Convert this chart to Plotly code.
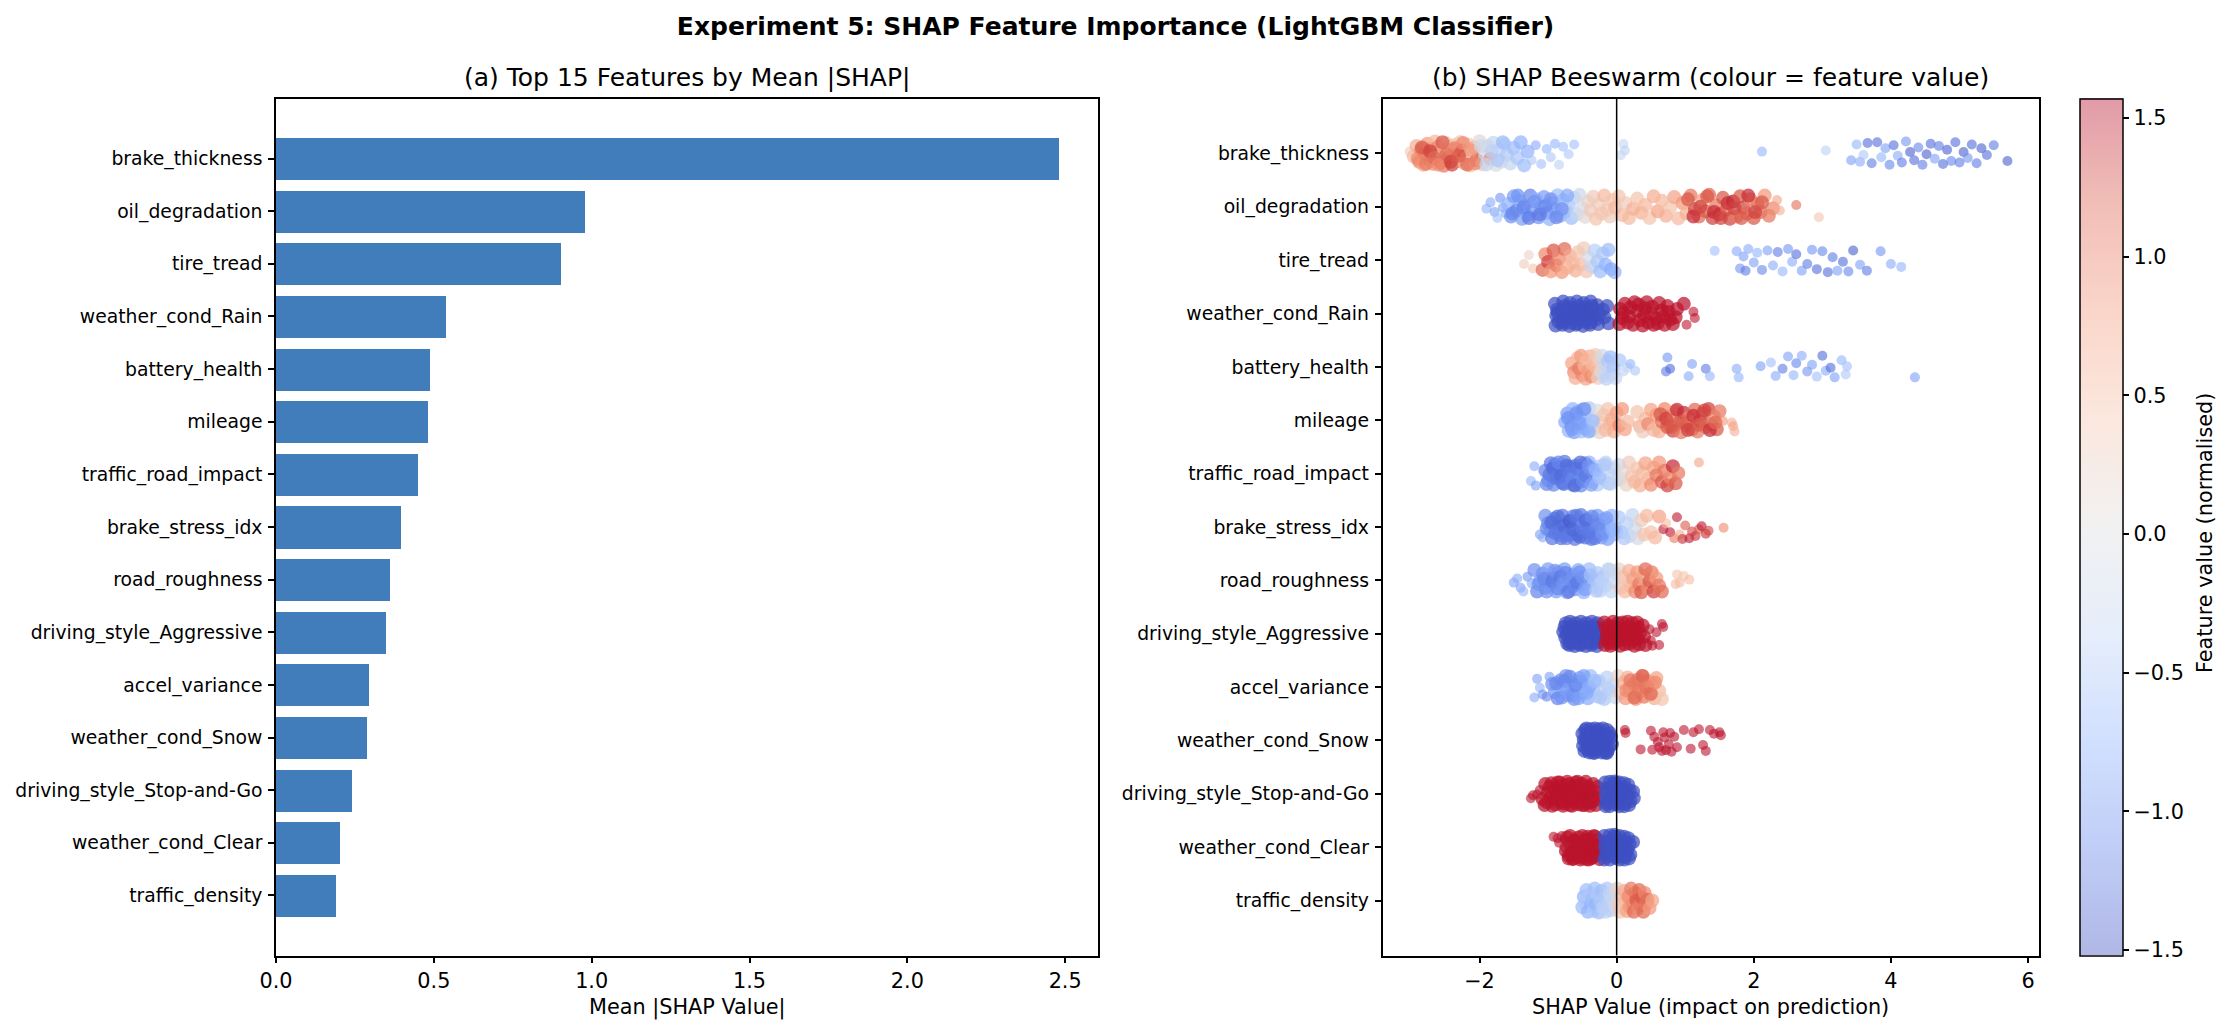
# Experiment 5 - SHAP importance: bars + beeswarm
import plotly.graph_objects as go

W, H = 2231, 1035

features = ["brake_thickness", "oil_degradation", "tire_tread", "weather_cond_Rain", "battery_health",
            "mileage", "traffic_road_impact", "brake_stress_idx", "road_roughness",
            "driving_style_Aggressive", "accel_variance", "weather_cond_Snow",
            "driving_style_Stop-and-Go", "weather_cond_Clear", "traffic_density"]
mean_shap = [2.48, 0.978, 0.904, 0.54, 0.487, 0.48, 0.451, 0.397, 0.36, 0.347, 0.295, 0.287, 0.24, 0.204, 0.191]

# beeswarm: shap value, vertical jitter, normalised feature value
brake_thickness_x = [-3.02,-2.96,-2.92,-2.88,-2.85,-2.82,-2.79,-2.76,-2.73,-2.70,
    -2.68,-2.65,-2.62,-2.60,-2.57,-2.54,-2.52,-2.49,-2.46,-2.43,
    -2.40,-2.37,-2.34,-2.31,-2.28,-2.25,-2.22,-2.19,-2.16,-2.13,
    -2.10,-2.07,-2.04,-2.00,-1.96,-1.92,-1.88,-1.84,-1.80,-1.76,
    -1.72,-1.68,-1.64,-1.60,-1.55,-1.50,-1.45,-1.40,-1.35,-1.30,
    -1.24,-1.18,-1.10,-1.02,-0.96,-0.90,-0.84,-0.78,-0.70,-0.62,
    0.10,0.12,0.06,2.12,3.05,3.42,3.50,3.55,3.60,3.66,
    3.72,3.80,3.86,3.92,3.98,4.04,4.10,4.16,4.22,4.28,
    4.34,4.40,4.46,4.52,4.58,4.64,4.70,4.76,4.82,4.88,
    4.94,5.00,5.06,5.12,5.18,5.25,5.32,5.40,5.50,5.70,
    -2.90,-2.84,-2.78,-2.72,-2.66,-2.60,-2.54,-2.48,-2.42,-2.36,
    -2.30,-2.24,-2.18,-2.12,-2.06,-1.98,-1.90,-1.82,-1.74,-1.66]
brake_thickness_j = [-0.05,0.08,-0.20,0.22,-0.10,0.30,0.02,-0.26,0.16,-0.12,
    0.28,-0.32,0.06,-0.18,0.24,-0.04,0.33,-0.28,0.12,-0.14,
    0.30,-0.22,0.04,0.20,-0.31,-0.08,0.26,0.10,-0.24,0.32,
    -0.02,-0.16,0.18,-0.33,0.29,0.06,-0.20,0.14,-0.29,0.31,
    -0.10,0.22,-0.25,0.03,0.27,-0.15,0.12,-0.30,0.32,-0.05,
    0.18,-0.22,0.28,-0.12,0.10,-0.26,0.30,-0.18,0.02,-0.24,
    -0.25,-0.08,0.05,-0.05,-0.08,0.18,-0.24,0.22,0.04,-0.28,
    0.26,-0.30,0.10,-0.14,0.30,-0.22,0.06,0.24,-0.32,-0.04,
    0.18,-0.16,0.30,0.02,-0.26,0.14,-0.20,0.28,-0.10,0.20,
    -0.30,0.24,-0.04,0.12,-0.24,0.26,-0.14,0.04,-0.22,0.20,
    0.14,-0.16,0.28,-0.06,0.12,0.30,-0.30,0.02,0.22,-0.14,
    0.06,-0.28,0.30,-0.08,0.26,-0.20,0.30,-0.06,0.18,-0.30]
brake_thickness_v = [0.3,0.5,0.6,0.9,1.0,0.7,1.1,0.8,1.0,1.2,
    0.8,0.5,1.1,0.9,1.2,0.7,1.0,0.4,1.1,0.6,
    1.3,0.5,0.9,1.0,0.4,1.5,0.6,0.8,0.3,0.5,
    0.2,0.7,1.3,0.1,0.3,-0.2,0.1,0.9,-0.3,0.0,
    -0.3,-0.2,-0.4,-0.5,-0.3,-0.6,-0.5,-0.7,-0.6,-0.7,
    -0.5,-0.8,-0.6,-0.7,-0.5,-0.7,-0.4,-0.6,-0.5,-0.6,
    -0.3,-0.4,-0.3,-0.7,-0.4,-0.9,-0.7,-0.8,-0.5,-1.3,
    -1.2,-1.3,-0.7,-0.9,-1.1,-1.3,-0.8,-1.2,-1.0,-1.4,
    -1.3,-1.1,-1.2,-1.4,-1.3,-0.9,-1.2,-1.3,-1.4,-1.1,
    -1.3,-1.2,-1.4,-1.0,-1.3,-1.2,-1.4,-1.3,-1.2,-1.4,
    0.9,1.2,1.0,1.3,1.1,0.9,1.2,1.1,1.3,1.0,
    1.2,0.9,1.1,0.8,0.9,-0.2,-0.3,-0.4,-0.5,-0.6]

oil_degradation_x = [-1.90,-1.84,-1.78,-1.74,-1.70,-1.66,-1.62,-1.58,-1.54,-1.50,
    -1.46,-1.42,-1.38,-1.34,-1.30,-1.26,-1.22,-1.18,-1.14,-1.10,
    -1.06,-1.02,-0.98,-0.94,-0.90,-0.86,-0.82,-0.78,-0.74,-0.70,
    -0.66,-0.62,-0.58,-0.54,-0.50,-0.46,-0.42,-0.38,-0.34,-0.30,
    -0.26,-0.22,-0.18,-0.14,-0.10,-0.06,-0.02,0.03,0.08,0.13,
    0.18,0.24,0.30,0.36,0.42,0.48,0.54,0.60,0.66,0.72,
    0.78,0.84,0.90,0.96,1.02,1.08,1.14,1.20,1.25,1.30,
    1.35,1.40,1.45,1.50,1.55,1.60,1.65,1.70,1.75,1.80,
    1.85,1.90,1.95,2.00,2.05,2.10,2.16,2.22,2.28,2.34,
    2.38,2.62,2.95,
    -1.52,-1.44,-1.36,-1.28,-1.20,-1.12,-1.04,-0.96,-0.88,-0.80,-0.72,
    1.04,1.12,1.22,1.32,1.42,1.52,1.62,1.72,1.82,1.92,2.02,2.12]
oil_degradation_j = [0.05,-0.12,0.14,0.30,-0.24,0.02,0.18,-0.08,0.26,-0.28,
    0.10,-0.16,0.32,-0.02,0.22,-0.30,0.08,-0.20,0.28,0.00,
    -0.26,0.16,0.33,-0.10,0.06,-0.31,0.24,-0.18,0.12,-0.04,
    0.30,-0.24,0.20,-0.32,0.04,0.27,-0.14,0.10,-0.27,0.32,
    -0.06,0.18,-0.30,0.08,0.26,-0.18,0.02,-0.28,0.22,-0.10,
    0.30,0.05,-0.22,0.16,-0.05,0.30,-0.28,0.12,-0.16,0.24,
    0.02,-0.26,0.31,-0.10,0.18,-0.30,0.06,0.26,-0.18,0.12,
    -0.32,0.30,-0.04,0.20,-0.24,0.08,0.32,-0.14,0.26,-0.28,
    0.02,0.18,-0.20,0.30,-0.08,0.14,-0.30,0.24,0.04,-0.18,
    0.10,-0.05,0.28,
    0.18,-0.30,0.02,0.30,-0.14,0.20,-0.02,-0.20,0.28,0.06,-0.30,
    -0.20,0.26,0.00,-0.28,0.14,0.30,-0.10,0.04,0.30,-0.30,0.14,-0.12]
oil_degradation_v = [-0.7,-0.8,-0.9,-0.6,-1.0,-0.9,-0.8,-0.7,-1.0,-0.9,
    -1.1,-0.8,-0.9,-1.0,-0.8,-1.1,-0.9,-0.7,-1.0,-0.8,
    -0.9,-1.1,-0.7,-1.0,-0.9,-0.6,-0.8,-0.7,-0.6,-0.5,
    -0.6,-0.4,-0.3,-0.2,-0.1,0.1,0.2,0.3,0.3,0.4,
    0.3,0.4,0.5,0.4,0.3,0.4,0.5,0.4,0.5,0.3,
    0.5,0.6,0.4,0.6,0.5,0.4,0.6,0.7,0.5,0.6,
    0.4,0.7,0.5,0.8,0.6,1.0,1.3,1.1,0.7,1.2,
    1.1,1.3,1.0,1.4,1.2,1.1,1.3,1.5,1.0,1.2,
    1.3,1.1,0.9,1.2,1.0,1.1,0.8,1.0,0.9,0.7,
    0.6,1.1,0.4,
    -1.1,-1.0,-1.1,-1.2,-1.0,-1.2,-1.1,-1.0,-1.1,-1.0,-0.8,
    1.2,1.4,1.3,1.2,1.4,1.3,1.4,1.3,1.2,1.4,1.3,1.2]

tire_tread_x = [-1.35,-1.28,-1.22,-1.08,-1.04,-1.00,-0.96,-0.92,-0.88,-0.84,
    -0.80,-0.76,-0.72,-0.68,-0.64,-0.60,-0.56,-0.52,-0.48,-0.44,
    -0.40,-0.36,-0.32,-0.28,-0.24,-0.20,-0.16,-0.12,-0.08,-0.03,
    1.43,1.75,1.80,1.85,1.88,1.92,2.00,2.05,2.12,2.20,
    2.28,2.35,2.42,2.50,2.56,2.62,2.70,2.78,2.85,2.92,
    3.00,3.08,3.15,3.22,3.30,3.38,3.45,3.55,3.65,3.85,4.00,4.15]
tire_tread_j = [0.10,-0.14,0.22,0.26,-0.16,0.05,0.30,-0.26,0.14,-0.04,
    0.32,-0.30,0.20,-0.12,0.06,0.28,-0.22,0.12,-0.32,0.30,
    -0.06,0.18,-0.26,0.04,0.30,-0.18,0.12,-0.28,0.24,0.32,
    -0.25,-0.24,0.22,-0.10,0.28,-0.30,0.06,-0.20,0.26,-0.26,
    0.14,-0.22,0.30,-0.30,0.04,-0.16,0.28,0.10,-0.28,0.24,
    -0.24,0.32,-0.08,0.28,0.04,0.30,-0.26,0.12,0.28,-0.24,0.10,0.18]
tire_tread_v = [0.3,0.2,0.4,1.1,0.9,1.3,0.8,1.2,1.0,0.9,
    0.8,1.1,0.6,0.7,0.5,0.6,0.4,0.5,0.3,0.4,
    -0.1,-0.3,-0.4,-0.5,-0.6,-0.5,-0.7,-0.6,-0.8,-0.7,
    -0.6,-0.8,-1.0,-0.9,-1.2,-0.8,-0.9,-0.7,-1.1,-0.9,
    -0.8,-1.2,-0.7,-1.0,-0.8,-1.3,-0.9,-1.2,-1.0,-1.3,
    -1.1,-1.3,-1.2,-0.9,-1.3,-1.1,-1.4,-0.9,-1.2,-1.0,-0.8,-0.7]

weather_cond_Rain_x = [-0.90,-0.87,-0.88,-0.85,-0.89,-0.86,
    -0.78,-0.76,-0.80,-0.75,-0.77,-0.79,-0.74,-0.78,
    -0.68,-0.66,-0.70,-0.65,-0.67,-0.69,-0.64,-0.68,
    -0.58,-0.56,-0.60,-0.55,-0.57,-0.59,-0.54,-0.58,
    -0.48,-0.46,-0.50,-0.45,-0.47,-0.49,-0.44,-0.48,
    -0.38,-0.36,-0.40,-0.35,-0.37,-0.39,-0.34,-0.38,
    -0.28,-0.25,-0.30,-0.27,-0.20,-0.18,-0.14,-0.12,
    0.05,0.08,0.04,0.12,0.10,0.16,0.20,0.18,0.26,0.24,
    0.30,0.34,0.32,0.38,0.42,0.40,0.46,0.44,0.50,0.54,
    0.52,0.58,0.62,0.60,0.66,0.70,0.68,0.74,0.78,0.76,
    0.82,0.88,0.86,0.98,1.02,1.12,1.14]
weather_cond_Rain_j = [-0.26,-0.10,0.06,0.22,0.32,-0.02,
    -0.32,-0.20,-0.06,0.08,0.18,0.30,-0.14,0.24,
    -0.28,-0.16,-0.02,0.12,0.24,0.33,-0.08,0.04,
    -0.32,-0.20,-0.06,0.06,0.18,0.30,-0.12,0.26,
    -0.28,-0.16,-0.02,0.10,0.22,0.33,-0.08,0.04,
    -0.32,-0.20,-0.06,0.08,0.18,0.30,-0.14,0.24,
    -0.22,0.02,0.16,0.28,-0.10,0.10,-0.20,0.26,
    -0.12,0.12,0.28,-0.26,-0.02,0.24,-0.16,0.08,-0.30,0.30,
    -0.06,0.18,-0.24,0.32,-0.14,0.06,0.24,-0.30,0.00,0.30,
    -0.18,0.14,-0.28,0.26,-0.08,0.30,0.08,-0.20,0.16,-0.04,
    0.28,-0.12,0.10,-0.26,0.30,-0.05,0.12]
weather_cond_Rain_v = [-1.5]*54 + [1.5]*37

battery_health_x = [-0.65,-0.62,-0.60,-0.57,-0.55,-0.52,-0.50,-0.47,-0.45,-0.43,
    -0.41,-0.39,-0.37,-0.35,-0.33,-0.31,-0.29,-0.27,-0.25,-0.23,
    -0.21,-0.19,-0.17,-0.15,-0.13,-0.11,-0.09,-0.07,-0.05,-0.02,
    0.04,0.10,0.16,0.20,0.27,0.72,0.74,0.78,1.05,1.10,
    1.30,1.36,1.75,1.78,2.10,2.25,2.32,2.42,2.50,2.58,
    2.62,2.70,2.78,2.85,2.92,3.00,3.05,3.12,3.18,3.28,3.34,3.36,4.35]
battery_health_j = [-0.10,0.14,0.30,-0.24,0.04,-0.30,0.22,-0.02,0.32,-0.18,
    0.10,-0.28,0.26,-0.08,0.18,-0.32,0.04,0.30,-0.20,0.12,
    -0.30,0.24,-0.06,0.32,-0.16,0.08,-0.26,0.20,0.00,0.30,
    -0.18,0.12,0.02,-0.08,0.10,0.12,-0.25,0.05,0.25,-0.08,
    0.05,0.25,0.05,0.28,-0.02,-0.12,0.24,0.05,-0.28,0.22,
    -0.10,-0.30,0.12,-0.06,0.26,-0.30,0.10,0.02,0.28,-0.18,0.20,-0.02,0.28]
battery_health_v = [0.7,0.9,0.6,0.5,1.0,0.8,0.9,0.6,0.7,0.5,
    0.8,0.6,0.9,0.5,0.7,0.4,0.5,0.3,0.2,0.1,
    -0.1,-0.2,-0.3,-0.4,-0.5,-0.3,-0.6,-0.4,-0.5,-0.3,
    -0.5,-0.4,-0.3,-0.7,-0.5,-1.2,-1.0,-1.3,-0.8,-0.9,
    -1.2,-0.7,-0.8,-0.7,-0.9,-0.6,-0.8,-1.2,-0.9,-0.7,
    -1.1,-0.8,-1.0,-0.9,-0.6,-1.3,-0.8,-1.3,-0.9,-0.7,-0.5,-0.6,-0.9]

mileage_x = [-0.75,-0.72,-0.70,-0.68,-0.66,-0.64,-0.62,-0.60,-0.58,-0.56,
    -0.54,-0.52,-0.50,-0.48,-0.46,-0.44,-0.42,-0.40,-0.37,-0.34,
    -0.31,-0.28,-0.25,-0.22,-0.19,-0.16,-0.13,-0.10,-0.07,-0.04,
    0.00,0.04,0.08,0.12,0.16,0.30,0.34,0.38,0.42,0.46,
    0.50,0.54,0.58,0.62,0.66,0.70,0.74,0.78,0.82,0.86,
    0.90,0.94,0.98,1.02,1.06,1.10,1.14,1.18,1.22,1.26,
    1.30,1.34,1.38,1.42,1.46,1.50,1.55,1.68,1.70,1.72,
    -0.71,-0.65,-0.59,-0.53,-0.47,-0.41,-0.35,
    0.64,0.72,0.80,0.88,0.96,1.04,1.12,1.20,1.28,1.36,1.44]
mileage_j = [0.05,-0.18,0.28,-0.06,0.16,-0.30,0.32,0.08,-0.22,0.20,
    -0.10,0.30,-0.28,0.02,0.22,-0.16,0.12,-0.32,0.28,-0.04,
    0.18,-0.26,0.32,0.06,-0.14,0.26,-0.30,0.10,-0.02,0.30,
    -0.20,0.14,-0.30,0.24,0.04,-0.22,0.16,0.30,-0.04,0.10,
    -0.28,0.26,-0.14,0.30,0.04,-0.30,0.18,-0.10,0.28,-0.24,
    0.08,0.32,-0.20,0.14,-0.06,0.24,-0.28,0.30,0.02,-0.18,
    0.18,-0.30,0.10,-0.10,0.24,-0.24,0.02,0.06,0.16,0.30,
    -0.06,0.24,-0.18,0.08,-0.30,0.30,0.02,
    -0.16,-0.04,0.18,-0.28,0.04,0.26,-0.12,0.12,-0.26,0.26,0.06]
mileage_v = [-0.8,-0.9,-0.7,-0.8,-1.0,-0.7,-0.9,-0.8,-0.7,-1.0,
    -0.8,-0.6,-0.9,-0.7,-0.8,-0.6,-0.7,-0.5,-0.5,-0.3,
    -0.2,0.0,0.2,0.3,0.4,0.5,0.4,0.5,0.6,0.6,
    0.7,0.9,0.8,0.7,0.5,0.4,0.6,0.3,0.5,0.9,
    0.7,0.5,0.8,0.6,1.1,0.9,1.2,1.0,1.3,0.8,
    1.2,1.0,1.4,1.1,0.9,1.3,1.1,1.0,1.4,1.2,
    1.0,1.3,1.1,0.9,1.2,1.0,0.8,0.6,0.7,0.6,
    -1.0,-0.9,-1.0,-0.9,-1.0,-0.8,-0.6,
    1.2,1.3,1.2,1.4,1.2,1.3,1.4,1.2,1.3,1.4,1.1]

traffic_road_impact_x = [-1.25,-1.20,-1.18,-1.04,-1.00,-0.96,-0.92,-0.88,-0.84,-0.80,
    -0.76,-0.72,-0.68,-0.64,-0.60,-0.56,-0.52,-0.48,-0.44,-0.40,
    -0.36,-0.32,-0.28,-0.24,-0.20,-0.16,-0.12,-0.08,-0.04,-0.01,
    -1.02,-0.90,-0.78,-0.66,-0.58,-0.46,-0.34,-0.86,-0.70,-0.50,
    0.03,0.06,0.10,0.14,0.18,0.22,0.26,0.30,0.34,0.38,
    0.42,0.46,0.50,0.54,0.58,0.62,0.66,0.70,0.74,0.78,
    0.82,0.86,0.90,1.20,
    -0.98,-0.93,-0.89,-0.85,-0.81,-0.77,-0.73,-0.69,-0.65,-0.61,
    -0.57,-0.53,-0.49,-0.45,-0.41,-0.37,-0.31,-0.25,-0.17,-0.09]
traffic_road_impact_j = [0.20,-0.20,0.32,-0.08,0.18,-0.28,0.30,0.02,-0.16,0.24,
    -0.32,0.10,-0.06,0.30,-0.22,0.14,0.32,-0.12,0.04,-0.30,
    0.22,-0.02,0.30,-0.20,0.12,-0.30,0.26,0.02,-0.14,0.18,
    0.28,-0.24,0.26,-0.18,0.04,-0.28,-0.10,0.10,0.00,0.18,
    -0.24,0.14,-0.06,0.30,-0.30,0.06,0.22,-0.14,0.32,-0.02,
    -0.28,0.14,0.30,-0.16,0.04,-0.30,0.22,-0.08,0.32,0.10,
    -0.20,0.26,-0.02,-0.30,
    0.02,-0.14,0.12,-0.30,0.06,0.28,-0.22,-0.02,0.16,0.32,
    -0.12,-0.30,0.20,0.06,-0.20,0.30,-0.10,0.12,-0.24,0.28]
traffic_road_impact_v = [-0.7,-0.8,-0.9,-1.1,-1.0,-1.2,-1.1,-1.0,-1.2,-1.1,
    -1.2,-1.0,-1.1,-1.2,-1.0,-0.9,-1.1,-0.9,-0.8,-0.7,
    -0.6,-0.6,-0.5,-0.5,-0.4,-0.4,-0.5,-0.3,-0.4,-0.3,
    -1.1,-1.2,-1.1,-1.2,-1.0,-1.0,-0.7,-1.2,-1.1,-1.0,
    -0.2,-0.1,0.1,0.2,0.3,0.4,0.5,0.4,0.6,0.5,
    0.7,0.5,0.9,0.7,1.0,0.8,1.2,1.0,1.3,0.9,
    1.4,1.2,1.0,0.7,
    -1.2,-1.3,-1.2,-1.1,-1.3,-1.2,-1.3,-1.2,-1.1,-1.3,
    -1.2,-1.3,-1.1,-1.2,-1.0,-0.9,-0.7,-0.6,-0.5,-0.4]

brake_stress_idx_x = [-1.12,-1.08,-1.04,-1.00,-0.97,-0.94,-0.91,-0.88,-0.85,-0.82,
    -0.79,-0.76,-0.73,-0.70,-0.67,-0.64,-0.61,-0.58,-0.55,-0.52,
    -0.49,-0.46,-0.43,-0.40,-0.37,-0.34,-0.31,-0.28,-0.25,-0.22,
    -0.19,-0.16,-0.13,-0.10,-0.07,-0.04,-0.01,0.03,0.07,0.11,
    0.15,0.19,0.23,0.27,0.31,0.36,0.40,0.44,0.50,0.56,
    0.62,0.68,0.72,0.78,0.84,0.88,0.92,0.96,1.00,1.06,
    1.10,1.15,1.20,1.24,1.30,1.34,1.56,
    -1.02,-0.95,-0.90,-0.86,-0.81,-0.77,-0.72,-0.68,-0.63,-0.59,
    -0.54,-0.50,-0.45,-0.41,-0.36,-0.32,-0.27,-0.21,-0.15,-0.06]
brake_stress_idx_j = [0.20,0.28,-0.30,-0.10,0.10,0.30,-0.22,0.04,-0.02,0.22,
    -0.30,0.14,0.30,-0.16,0.06,-0.28,0.32,0.20,-0.08,-0.32,
    0.12,0.28,-0.22,0.02,0.32,-0.14,0.18,-0.30,0.06,0.28,
    -0.20,0.12,0.32,-0.06,-0.30,0.20,0.04,-0.26,0.14,0.30,
    -0.10,0.24,-0.32,0.04,0.30,-0.18,0.20,-0.30,0.14,0.28,
    -0.28,0.06,-0.10,0.14,0.30,-0.26,0.20,0.32,-0.04,0.30,
    0.12,0.24,0.06,-0.02,0.18,0.10,0.02,
    0.04,-0.12,0.16,-0.28,0.30,-0.04,0.22,-0.16,0.08,-0.30,
    0.26,0.02,-0.18,0.14,-0.28,0.30,-0.06,0.18,-0.24,0.08]
brake_stress_idx_v = [-0.9,-0.8,-1.0,-1.1,-1.0,-1.2,-1.1,-1.3,-1.2,-1.1,
    -1.2,-1.3,-1.1,-1.2,-1.3,-1.1,-1.2,-1.3,-1.1,-1.2,
    -1.1,-1.2,-1.0,-1.1,-1.2,-1.0,-1.1,-0.9,-1.0,-0.9,
    -0.9,-0.8,-0.9,-0.8,-0.7,-0.7,-0.6,-0.5,-0.6,-0.5,
    -0.4,-0.4,-0.3,-0.2,-0.1,0.3,0.4,0.5,0.4,0.5,
    0.7,1.5,0.5,1.5,1.0,1.5,0.6,1.4,1.2,1.5,
    1.3,1.4,1.2,1.5,1.4,1.3,0.9,
    -1.1,-1.3,-1.2,-1.3,-1.2,-1.3,-1.2,-1.4,-1.3,-1.2,
    -1.3,-1.2,-1.3,-1.2,-1.1,-1.2,-1.1,-1.0,-0.9,-0.7]

road_roughness_x = [-1.50,-1.45,-1.40,-1.36,-1.30,-1.24,-1.20,-1.16,-1.12,-1.08,
    -1.04,-1.00,-0.96,-0.92,-0.88,-0.84,-0.80,-0.76,-0.72,-0.68,
    -0.64,-0.60,-0.56,-0.52,-0.48,-0.44,-0.40,-0.36,-0.32,-0.28,
    -0.24,-0.20,-0.16,-0.12,-0.08,-0.04,-0.01,0.03,0.06,0.09,
    0.12,0.15,0.18,0.21,0.24,0.27,0.30,0.33,0.36,0.39,
    0.42,0.45,0.48,0.51,0.54,0.58,0.62,0.66,0.86,0.88,
    0.92,0.98,1.06,
    -1.14,-1.06,-1.02,-0.94,-0.90,-0.86,-0.82,-0.78,-0.74,-0.70,
    -0.66,-0.62,-0.58,-0.54,-0.50,-0.46,-0.38,-0.30,-0.22,-0.10]
road_roughness_j = [0.06,-0.05,0.20,0.30,-0.10,0.08,-0.28,0.30,0.02,-0.18,
    0.20,-0.30,0.10,-0.06,0.30,-0.22,0.14,-0.30,0.32,0.04,
    -0.16,0.24,-0.28,0.10,0.32,-0.04,-0.30,0.18,0.02,-0.20,
    0.28,-0.10,0.14,-0.30,0.30,0.04,-0.18,-0.30,0.20,-0.10,
    0.30,0.04,-0.26,0.16,-0.04,0.30,-0.22,0.10,0.32,-0.12,
    -0.30,0.20,0.02,-0.22,0.30,-0.06,0.14,0.30,0.10,-0.16,
    0.06,-0.12,-0.02,
    0.10,-0.04,0.30,0.02,-0.26,0.22,-0.10,0.06,-0.20,0.30,
    -0.02,0.14,0.06,-0.22,-0.08,0.24,-0.14,0.28,0.04,-0.28]
road_roughness_v = [-0.9,-0.8,-0.9,-0.7,-1.0,-0.8,-1.0,-1.1,-0.9,-1.0,
    -1.1,-0.9,-1.0,-1.1,-0.9,-1.0,-0.8,-0.9,-1.0,-1.1,
    -0.9,-1.0,-0.8,-0.9,-0.7,-0.8,-0.6,-0.5,-0.6,-0.5,
    -0.4,-0.5,-0.4,-0.4,-0.3,-0.3,-0.2,0.2,0.3,0.4,
    0.5,0.4,0.6,0.5,0.7,0.9,0.8,1.0,1.2,0.7,
    1.1,0.9,1.2,1.0,1.3,0.8,1.0,1.1,0.5,0.4,
    0.5,0.4,0.5,
    -1.0,-1.1,-1.0,-1.2,-1.0,-1.1,-1.2,-1.0,-1.1,-1.2,
    -1.0,-1.1,-1.2,-1.0,-1.0,-0.9,-0.6,-0.5,-0.4,-0.3]

driving_style_Aggressive_x = [-0.78,-0.75,-0.76,-0.72,-0.74,-0.73,
    -0.68,-0.66,-0.70,-0.65,-0.67,-0.69,-0.64,-0.68,
    -0.60,-0.58,-0.62,-0.57,-0.59,-0.61,-0.56,-0.60,
    -0.52,-0.50,-0.54,-0.49,-0.51,-0.53,-0.48,-0.52,
    -0.44,-0.42,-0.46,-0.41,-0.43,-0.45,-0.40,-0.44,
    -0.36,-0.34,-0.38,-0.33,-0.35,-0.37,-0.32,-0.36,
    -0.28,-0.26,-0.30,-0.25,-0.27,-0.29,-0.24,-0.28,
    -0.18,-0.16,-0.14,-0.15,-0.17,-0.12,-0.10,-0.08,-0.11,-0.09,
    -0.05,-0.03,-0.01,-0.02,-0.04,0.02,0.04,0.06,0.03,0.05,
    0.09,0.11,0.13,0.10,0.12,0.16,0.18,0.20,0.17,0.19,
    0.23,0.25,0.27,0.24,0.26,0.30,0.32,0.34,0.31,0.33,
    0.38,0.40,0.42,0.48,0.50,0.52,0.58,0.62,0.66,0.68]
driving_style_Aggressive_j = [-0.05,0.10,-0.18,0.26,-0.28,0.02,
    -0.32,-0.20,-0.06,0.08,0.18,0.30,-0.14,0.24,
    -0.28,-0.16,-0.02,0.12,0.24,0.33,-0.08,0.04,
    -0.32,-0.20,-0.06,0.06,0.18,0.30,-0.12,0.26,
    -0.28,-0.16,-0.02,0.10,0.22,0.33,-0.08,0.04,
    -0.32,-0.20,-0.06,0.08,0.18,0.30,-0.14,0.24,
    -0.28,-0.16,-0.02,0.10,0.22,0.33,-0.08,0.04,
    -0.30,-0.14,0.02,0.16,0.30,-0.22,-0.06,0.10,0.24,0.32,
    -0.32,-0.18,-0.04,0.12,0.26,-0.28,-0.12,0.04,0.18,0.32,
    -0.30,-0.16,0.00,0.14,0.28,-0.32,-0.18,-0.04,0.12,0.26,
    -0.28,-0.12,0.04,0.18,0.32,-0.30,-0.16,0.00,0.14,0.28,
    -0.22,0.08,0.30,-0.12,0.18,0.32,-0.04,0.30,-0.26,-0.18]
driving_style_Aggressive_v = [-1.5]*54 + [1.5]*50

accel_variance_x = [-1.20,-1.16,-1.12,-1.08,-1.02,-0.98,-0.94,-0.90,-0.86,-0.82,
    -0.78,-0.74,-0.70,-0.66,-0.62,-0.58,-0.54,-0.50,-0.46,-0.42,
    -0.38,-0.34,-0.30,-0.26,-0.22,-0.18,-0.14,-0.10,-0.06,-0.02,
    0.02,0.06,0.10,0.13,0.16,0.19,0.22,0.25,0.28,0.31,
    0.34,0.37,0.40,0.43,0.46,0.49,0.52,0.55,0.58,0.62,0.66,
    -0.88,-0.80,-0.76,-0.72,-0.68,-0.64,-0.60,-0.56,-0.52,-0.48,
    -0.44,-0.40,-0.32,-0.24,-0.12,0.14,0.20,0.26,0.32,0.38,0.44,0.50,0.56]
accel_variance_j = [0.28,-0.22,0.02,0.20,0.26,-0.28,-0.08,0.14,0.30,-0.18,
    0.02,-0.30,0.22,-0.10,0.32,0.06,-0.24,0.14,-0.04,0.30,
    -0.30,0.10,0.24,-0.16,0.04,0.32,-0.26,0.12,-0.06,0.28,
    -0.30,0.16,-0.12,0.30,-0.26,0.04,0.22,-0.08,0.32,-0.20,
    0.12,-0.30,0.26,0.00,-0.16,0.20,-0.06,0.30,-0.24,0.10,0.32,
    -0.10,0.28,-0.16,0.10,-0.28,0.22,-0.04,0.30,-0.14,-0.30,
    0.16,0.00,-0.16,0.28,0.04,0.08,-0.18,0.28,0.04,-0.30,-0.02,0.18,-0.12]
accel_variance_v = [-0.8,-0.9,-0.7,-1.0,-1.1,-0.9,-1.0,-0.9,-1.1,-1.0,
    -0.8,-1.0,-0.9,-0.8,-1.0,-0.7,-0.9,-0.8,-0.7,-0.8,
    -0.6,-0.7,-0.5,-0.6,-0.4,-0.5,-0.4,-0.4,-0.3,-0.2,
    0.2,0.4,0.6,0.8,0.6,0.9,0.7,1.0,0.8,1.1,
    0.9,0.7,1.0,1.2,0.8,0.9,0.7,0.6,0.7,0.5,0.4,
    -1.1,-1.0,-1.1,-0.9,-1.1,-1.0,-1.1,-0.9,-1.0,-0.9,
    -0.8,-0.8,-0.6,-0.5,-0.4,0.9,1.0,1.1,1.0,1.2,1.0,1.1,0.9]

weather_cond_Snow_x = [-0.50,-0.48,-0.49,-0.47,-0.46,
    -0.44,-0.42,-0.45,-0.41,-0.43,-0.40,-0.44,
    -0.38,-0.36,-0.39,-0.35,-0.37,-0.34,-0.38,
    -0.32,-0.30,-0.33,-0.29,-0.31,-0.28,-0.32,
    -0.26,-0.24,-0.27,-0.23,-0.25,-0.22,-0.26,
    -0.20,-0.18,-0.21,-0.17,-0.19,-0.16,-0.20,
    -0.14,-0.12,-0.15,-0.11,-0.13,-0.10,-0.14,-0.08,-0.07,
    0.12,0.13,0.35,0.50,0.52,0.55,0.60,0.62,0.66,0.68,
    0.70,0.72,0.76,0.78,0.80,0.84,0.88,0.98,1.08,1.12,
    1.20,1.26,1.30,1.36,1.42,1.50,1.52]
weather_cond_Snow_j = [-0.18,-0.02,0.14,0.28,-0.28,
    -0.32,-0.16,0.00,0.12,0.24,0.32,-0.08,
    -0.30,-0.20,-0.04,0.08,0.22,0.33,0.16,
    -0.32,-0.14,0.02,0.14,0.26,-0.24,0.33,
    -0.30,-0.18,-0.06,0.08,0.20,0.32,0.02,
    -0.32,-0.16,0.00,0.12,0.24,0.33,-0.08,
    -0.28,-0.12,0.04,0.18,0.28,-0.20,0.33,-0.10,0.10,
    -0.28,-0.20,0.24,-0.26,0.25,-0.10,0.04,0.18,0.28,-0.22,
    -0.08,0.26,0.10,-0.20,0.30,-0.10,0.18,-0.28,0.22,-0.22,
    -0.30,0.12,0.28,-0.28,-0.18,-0.22,-0.14]
weather_cond_Snow_v = [-1.5]*49 + [1.5]*27

driving_style_Stop_and_Go_x = [-1.25,-1.22,-1.16,-1.12,-1.08,-1.05,-1.04,-1.00,-1.02,-0.98,
    -0.96,-0.94,-0.95,-0.90,-0.92,-0.88,-0.86,-0.89,-0.84,-0.87,
    -0.82,-0.80,-0.83,-0.78,-0.81,-0.76,-0.74,-0.77,-0.72,-0.75,
    -0.70,-0.68,-0.71,-0.66,-0.69,-0.64,-0.62,-0.65,-0.60,-0.63,
    -0.58,-0.56,-0.59,-0.54,-0.57,-0.52,-0.50,-0.53,-0.48,-0.51,
    -0.46,-0.44,-0.47,-0.42,-0.45,-0.40,-0.38,-0.41,-0.36,-0.39,
    -0.34,-0.32,-0.35,-0.30,-0.33,-0.28,-0.26,
    -0.17,-0.15,-0.16,-0.14,-0.15,-0.16,-0.10,-0.08,-0.11,-0.07,
    -0.09,-0.10,-0.03,-0.01,-0.04,0.00,-0.02,-0.03,0.04,0.06,
    0.03,0.07,0.05,0.04,0.11,0.13,0.10,0.14,0.12,0.11,
    0.17,0.19,0.16,0.20,0.18,0.24,0.25]
driving_style_Stop_and_Go_j = [0.12,0.04,0.02,-0.10,0.14,0.30,-0.26,-0.04,0.22,-0.18,
    0.08,0.32,-0.28,-0.12,0.18,0.02,-0.30,0.28,-0.20,0.12,
    -0.06,0.22,-0.30,0.32,0.08,-0.14,0.02,0.26,-0.32,-0.22,
    0.16,0.30,-0.08,0.04,-0.26,-0.16,0.22,0.32,-0.30,0.10,
    -0.04,0.28,-0.20,0.14,-0.32,0.04,0.30,-0.12,0.20,-0.26,
    -0.06,0.12,0.30,-0.20,-0.32,0.24,0.02,-0.12,0.14,0.32,
    -0.26,-0.06,0.20,0.30,0.08,-0.18,0.14,
    -0.30,-0.14,0.00,0.14,0.26,0.33,-0.32,-0.18,-0.04,0.08,
    0.22,0.33,-0.28,-0.12,0.02,0.16,0.28,-0.33,-0.30,-0.16,
    -0.02,0.12,0.24,0.33,-0.28,-0.14,0.00,0.14,0.26,0.33,
    -0.24,-0.08,0.06,0.20,0.30,-0.06,0.12]
driving_style_Stop_and_Go_v = [1.5]*67 + [-1.5]*37

weather_cond_Clear_x = [-0.92,-0.86,-0.84,-0.80,-0.76,-0.72,-0.74,-0.70,-0.76,-0.68,
    -0.66,-0.68,-0.64,-0.70,-0.62,-0.60,-0.63,-0.58,-0.65,-0.56,
    -0.55,-0.58,-0.53,-0.60,-0.50,-0.49,-0.52,-0.47,-0.54,-0.45,
    -0.44,-0.46,-0.42,-0.48,-0.40,-0.38,-0.41,-0.36,-0.43,-0.34,
    -0.33,-0.35,-0.31,-0.37,-0.29,-0.27,-0.30,-0.25,-0.32,-0.23,-0.21,
    -0.18,-0.16,-0.17,-0.15,-0.16,-0.18,-0.10,-0.08,-0.11,-0.07,
    -0.09,-0.10,-0.03,-0.01,-0.04,0.00,-0.02,-0.03,0.04,0.06,
    0.03,0.07,0.05,0.04,0.11,0.13,0.10,0.14,0.12,0.11,
    0.17,0.19,0.16,0.20,0.18,0.24]
weather_cond_Clear_j = [-0.28,-0.24,-0.12,-0.30,-0.20,-0.26,0.10,0.30,0.00,-0.10,
    0.18,-0.30,0.32,0.22,-0.18,0.06,0.30,-0.06,0.14,-0.26,
    0.24,0.02,0.33,-0.14,-0.30,0.12,0.28,-0.04,0.20,-0.20,
    0.32,0.06,-0.28,0.24,0.16,-0.10,0.33,0.02,-0.20,0.26,
    -0.30,0.12,-0.04,0.30,0.20,-0.20,0.06,0.32,-0.28,-0.06,0.16,
    -0.30,-0.14,0.00,0.14,0.26,0.33,-0.32,-0.18,-0.04,0.08,
    0.22,0.33,-0.28,-0.12,0.02,0.16,0.28,-0.33,-0.30,-0.16,
    -0.02,0.12,0.24,0.33,-0.28,-0.14,0.00,0.14,0.26,0.33,
    -0.24,-0.08,0.06,0.20,0.30,-0.14]
weather_cond_Clear_v = [1.5]*51 + [-1.5]*36

traffic_density_x = [-0.50,-0.48,-0.46,-0.44,-0.42,-0.40,-0.38,-0.36,-0.34,-0.32,
    -0.30,-0.28,-0.26,-0.24,-0.22,-0.20,-0.18,-0.16,-0.14,-0.12,
    -0.10,-0.08,-0.06,-0.04,-0.02,0.01,0.03,0.05,0.07,0.09,
    0.11,0.13,0.15,0.17,0.19,0.21,0.23,0.25,0.27,0.29,
    0.31,0.33,0.35,0.37,0.39,0.41,0.43,0.45,0.48,0.52]
traffic_density_j = [0.18,-0.10,0.06,-0.28,0.30,-0.16,0.14,-0.02,0.28,-0.32,
    0.10,-0.18,0.32,0.02,-0.26,0.20,-0.08,0.30,-0.32,0.12,
    -0.16,0.26,0.02,-0.28,0.16,-0.32,0.08,0.30,-0.14,0.20,
    -0.26,0.02,0.28,-0.10,0.16,-0.32,0.08,0.30,-0.20,0.00,
    0.22,-0.28,0.12,-0.08,0.30,-0.20,0.10,-0.02,0.20,0.00]
traffic_density_v = [-0.6,-0.7,-0.5,-0.6,-0.7,-0.5,-0.7,-0.6,-0.5,-0.6,
    -0.7,-0.5,-0.6,-0.5,-0.6,-0.4,-0.5,-0.4,-0.5,-0.4,
    -0.3,-0.4,-0.3,-0.3,-0.2,0.2,0.3,0.4,0.5,0.4,
    0.6,0.5,0.7,0.9,0.8,1.0,0.9,1.1,1.0,1.2,
    0.9,1.1,1.0,1.2,1.1,0.9,1.0,1.1,0.8,0.7]

swarm = [
    (brake_thickness_x, brake_thickness_j, brake_thickness_v),
    (oil_degradation_x, oil_degradation_j, oil_degradation_v),
    (tire_tread_x, tire_tread_j, tire_tread_v),
    (weather_cond_Rain_x, weather_cond_Rain_j, weather_cond_Rain_v),
    (battery_health_x, battery_health_j, battery_health_v),
    (mileage_x, mileage_j, mileage_v),
    (traffic_road_impact_x, traffic_road_impact_j, traffic_road_impact_v),
    (brake_stress_idx_x, brake_stress_idx_j, brake_stress_idx_v),
    (road_roughness_x, road_roughness_j, road_roughness_v),
    (driving_style_Aggressive_x, driving_style_Aggressive_j, driving_style_Aggressive_v),
    (accel_variance_x, accel_variance_j, accel_variance_v),
    (weather_cond_Snow_x, weather_cond_Snow_j, weather_cond_Snow_v),
    (driving_style_Stop_and_Go_x, driving_style_Stop_and_Go_j, driving_style_Stop_and_Go_v),
    (weather_cond_Clear_x, weather_cond_Clear_j, weather_cond_Clear_v),
    (traffic_density_x, traffic_density_j, traffic_density_v),
]

# where the swarm is a solid wash the dots get drawn bigger (fewer dots than the original had)
dense_span = [(-3.0, -1.3), (-1.6, 2.3), (-1.1, 0.0), (-0.95, 1.0), (-0.7, 0.05), (-0.8, 1.5), (-1.05, 0.9),
              (-1.05, 0.65), (-1.2, 0.7), (-0.8, 0.45), (-0.95, 0.66), (-0.55, 0.0), (-1.1, 0.3), (-0.75, 0.3),
              (-0.55, 0.55)]

# matplotlib coolwarm
cool_stops = [(0.0, (59, 76, 192)), (0.125, (98, 130, 234)), (0.25, (141, 176, 254)), (0.375, (192, 212, 245)),
              (0.5, (221, 221, 221)), (0.625, (245, 196, 173)), (0.75, (244, 152, 122)), (0.875, (220, 93, 74)),
              (1.0, (180, 4, 38))]
coolwarm = [[p, "rgb(%d,%d,%d)" % c] for p, c in cool_stops]
coolwarm_pale = [[p, "rgba(%d,%d,%d,0.4)" % c] for p, c in cool_stops]

# plot area in page pixels, everything below is placed relative to it
AX, AY, AW, AH = 10, 90, 2071, 875
def fx(px): return (px - AX) / AW
def fy(py): return 1 - (py - AY) / AH

fig = go.Figure()
fig.add_trace(go.Bar(x=mean_shap, y=features, orientation="h", width=0.8, marker=dict(color="#417dba", line_width=0),
                     xaxis="x", yaxis="y", showlegend=False))

for i, (sx, sj, sv) in enumerate(swarm):
    assert len(sx) == len(sj) == len(sv), features[i]
    lo, hi = dense_span[i]
    sizes = [14 if lo <= v <= hi else 10 for v in sx]
    alphas = [0.72 if lo <= v <= hi else 0.6 for v in sx]
    fig.add_trace(go.Scatter(x=sx, y=[i + 0.7 * j for j in sj], mode="markers", xaxis="x2", yaxis="y2", showlegend=False,
                             marker=dict(size=sizes, color=sv, coloraxis="coloraxis", opacity=alphas, line_width=0)))

# only there to carry the pale colour bar
fig.add_trace(go.Scatter(x=[None], y=[None], mode="markers", xaxis="x2", yaxis="y2", showlegend=False,
                         marker=dict(color=[0], coloraxis="coloraxis2")))

axis_style = dict(showline=True, linecolor="black", linewidth=1.5, mirror=True, ticks="outside", ticklen=6, automargin=False,
                  tickwidth=1.5, tickcolor="black", showgrid=False, zeroline=False, tickfont=dict(size=20.8, color="black"))
cat_style = {**axis_style, "tickfont": dict(size=18.8, color="black"), "ticklabelstandoff": 2}

fig.update_layout(
    width=W, height=H, margin=dict(l=AX, r=W - AX - AW, t=AY, b=H - AY - AH), paper_bgcolor="white", plot_bgcolor="white",
    font=dict(family="DejaVu Sans", color="black"), bargap=0,
    title=dict(text="<b>Experiment 5: SHAP Feature Importance (LightGBM Classifier)</b>", x=0.5, xanchor="center",
               y=1 - 26 / H, yanchor="middle", font=dict(size=25)),
    xaxis=dict(domain=[fx(276), fx(1098)], range=[0, 2.604], tickvals=[0, 0.5, 1, 1.5, 2, 2.5],
               ticktext=["0.0", "0.5", "1.0", "1.5", "2.0", "2.5"], anchor="y", **axis_style),
    yaxis=dict(domain=[fy(955.5), fy(98.5)], type="category", categoryorder="array", categoryarray=features,
               range=[15.14, -1.14], anchor="x", **cat_style),
    xaxis2=dict(domain=[fx(1382.5), fx(2039)], range=[-3.415, 6.16], tickvals=[-2, 0, 2, 4, 6], anchor="y2", **axis_style),
    yaxis2=dict(domain=[fy(955.5), fy(98.5)], range=[15.03, -1.03], tickvals=list(range(15)), ticktext=features,
                anchor="x2", **cat_style),
    coloraxis=dict(colorscale=coolwarm, cmin=-1.52, cmax=1.57, showscale=False),
    coloraxis2=dict(colorscale=coolwarm_pale, cmin=-1.52, cmax=1.57, showscale=True,
                    colorbar=dict(x=fx(2080), xanchor="left", thickness=43, thicknessmode="pixels",
                                  len=857 / AH, lenmode="fraction", y=fy(955.5), yanchor="bottom", ypad=0, xpad=0,
                                  tickvals=[-1.5, -1, -0.5, 0, 0.5, 1, 1.5],
                                  ticktext=["\u22121.5", "\u22121.0", "\u22120.5", "0.0", "0.5", "1.0", "1.5"],
                                  ticks="outside", ticklen=6, tickwidth=1.5, tickcolor="black", outlinewidth=1.5,
                                  outlinecolor="black", tickfont=dict(size=20.8, color="black"))),
    shapes=[dict(type="line", xref="x2", yref="paper", x0=0, x1=0, y0=fy(955.5), y1=fy(98.5),
                 line=dict(color="black", width=1.5), layer="above")],
    annotations=[
        dict(text="(a) Top 15 Features by Mean |SHAP|", x=fx(687), y=fy(78), font=dict(size=25)),
        dict(text="(b) SHAP Beeswarm (colour = feature value)", x=fx(1710.5), y=fy(78), font=dict(size=25)),
        dict(text="Mean |SHAP Value|", x=fx(687), y=fy(1007), font=dict(size=20.8)),
        dict(text="SHAP Value (impact on prediction)", x=fx(1710.5), y=fy(1007), font=dict(size=20.8)),
        dict(text="Feature value (normalised)", x=fx(2205), y=fy(533), textangle=-90, font=dict(size=20.8)),
    ],
)
for a in fig.layout.annotations:
    a.update(xref="paper", yref="paper", showarrow=False, xanchor="center", yanchor="middle")

# browser default body margin would push the figure 8px off
fig.write_html("out.html", config={"displayModeBar": False}, post_script="document.body.style.margin='0';")
